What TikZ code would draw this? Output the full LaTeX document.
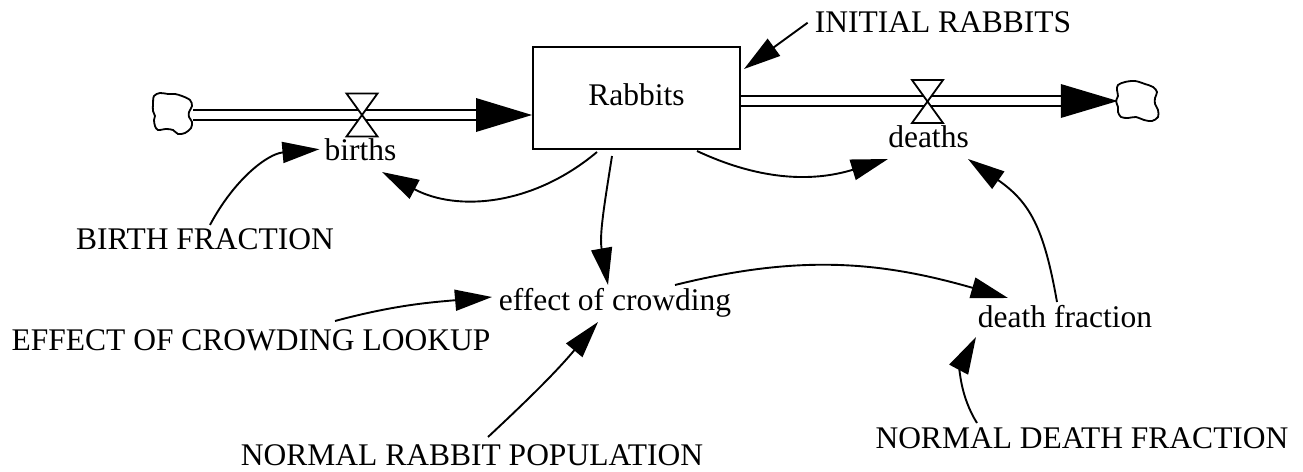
\documentclass[tikz,border=0pt]{standalone}
\usepackage{fontspec}
\setmainfont{LiberationSerif}[Extension=.ttf, UprightFont=*-Regular, BoldFont=*-Bold, ItalicFont=*-Italic, BoldItalicFont=*-BoldItalic]
\usetikzlibrary{arrows.meta}
\begin{document}
\begin{tikzpicture}[x=1pt,y=1pt,
  lbl/.style={inner sep=0pt, anchor=base, font=\fontsize{31.5pt}{36pt}\selectfont},
  stockbox/.style={draw, line width=2pt, minimum width=207pt, minimum height=102pt,
    inner sep=0pt, font=\fontsize{31.5pt}{36pt}\selectfont, text height=21.5pt, text depth=7.5pt},
  link/.style={line width=1.9pt, -{Triangle[length=37pt,width=21pt]}},
  pipe/.style={line width=2pt, double, double distance=8pt},
  valvestyle/.style={line width=1.8pt, fill=white, line join=miter},
  cloudline/.style={line width=1.8pt},
  cloudbox/.style={minimum width=40pt, minimum height=42pt, inner sep=0pt}
]
\useasboundingbox (0,0) rectangle (1303,-471);

% stock
\node[stockbox] (rabbits) at (636.5,-98) {Rabbits};

% clouds
\node[cloudbox] (src) at (173,-115) {};
\node[cloudbox] (sink) at (1138,-101) {};
\draw[cloudline] plot[smooth cycle, tension=0.55] coordinates {
  (154,-96) (160,-93) (168,-94) (175,-94) (182,-96) (190,-100) (192,-106) (189,-112)
  (189,-117) (192,-122) (191,-128) (185,-133) (178,-134) (173,-130) (166,-129)
  (158,-130) (155,-126) (154,-120) (155,-116) (153,-111) (153,-104)};
\draw[cloudline] plot[smooth cycle, tension=0.55] coordinates {
  (1118,-85) (1125,-82) (1135,-81) (1145,-84) (1153,-87) (1157,-92) (1155,-98)
  (1155,-104) (1158,-110) (1158,-117) (1152,-121) (1144,-120) (1136,-117)
  (1128,-118) (1121,-117) (1118,-112) (1118,-107) (1116,-101) (1118,-96) (1117,-90)};

% pipes
\draw[pipe] (src.east) -- ([shift={(-56,-17)}]rabbits.west);
\fill ([yshift=-17pt]rabbits.west) -- ++(-56,17) -- ++(0,-34) -- cycle;
\draw[pipe] ([yshift=-3pt]rabbits.east) -- ([xshift=-57pt]sink.west);
\fill (sink.west) -- ++(-57,17) -- ++(0,-34) -- cycle;

% valves
\coordinate (bv) at (362,-115);
\coordinate (dv) at (927.5,-101.5);
\draw[valvestyle] (bv) ++(-15.5,21.5) -- ++(31,0) -- ++(-31,-43) -- ++(31,0) -- cycle;
\draw[valvestyle] (dv) ++(-15.5,21.5) -- ++(31,0) -- ++(-31,-43) -- ++(31,0) -- cycle;

% labels
\node[lbl] (initial) at (943,-32) {INITIAL RABBITS};
\node[lbl] (births) at (360.5,-160) {births};
\node[lbl] (deaths) at (928.5,-147) {deaths};
\node[lbl] (bf) at (205,-249) {BIRTH FRACTION};
\node[lbl] (effect) at (615,-310) {effect of crowding};
\node[lbl] (lookup) at (251,-350) {EFFECT OF CROWDING LOOKUP};
\node[lbl] (df) at (1065,-327) {death fraction};
\node[lbl] (nrp) at (472,-465) {NORMAL RABBIT POPULATION};
\node[lbl] (ndf) at (1082,-448) {NORMAL DEATH FRACTION};

% connectors
\draw[link] ([shift={(-7,-1)}]initial.west) -- ([shift={(3,-23)}]rabbits.north east);
\draw[link] ([shift={(5,3)}]bf.north) to[out=62,in=185] ([xshift=-5pt]births.west);
\draw[link] ([shift={(-39.5,-2)}]rabbits.south) to[out=220,in=-28] ([shift={(21.5,-12)}]births.base);
\draw[link] ([shift={(60.5,-1)}]rabbits.south) to[out=-25,in=197] ([shift={(-40.5,-12)}]deaths.base);
\draw[link] ([shift={(-24.5,-6)}]rabbits.south) to[out=-99,in=100] ([shift={(-7,25)}]effect.base);
\draw[link] ([shift={(84,29)}]lookup.base) to[out=15,in=185] ([shift={(-123,13)}]effect.base);
\draw[link] ([shift={(16,28)}]nrp.base) to[out=43,in=230] ([shift={(-17,-12)}]effect.base);
\draw[link] ([shift={(60,25)}]effect.base) to[out=14,in=164] ([shift={(-57,29)}]df.base);
\draw[link] ([shift={(-8,25)}]df.base) to[out=100,in=-35,looseness=1.15] ([shift={(39.5,-12)}]deaths.base);
\draw[link] ([shift={(-105,25)}]ndf.base) to[out=122,in=242] ([shift={(-89,-10)}]df.base);
\end{tikzpicture}
\end{document}
